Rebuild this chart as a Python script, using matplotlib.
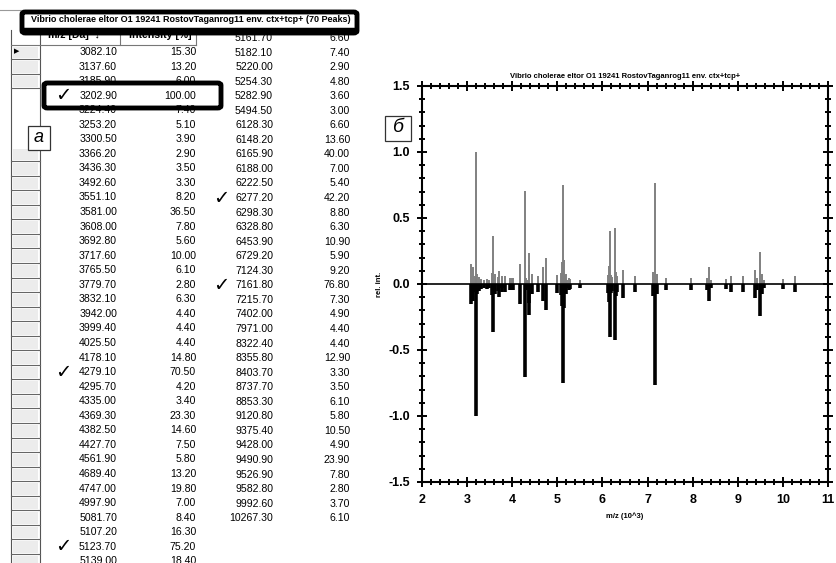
import matplotlib
matplotlib.use("Agg")
import matplotlib.pyplot as plt
from matplotlib.patches import FancyBboxPatch, Rectangle
from matplotlib.ticker import MultipleLocator, FormatStrFormatter

plt.rcParams['font.family'] = ['Liberation Sans', 'DejaVu Sans']
plt.rcParams['axes.unicode_minus'] = False

# peak list (70 peaks), shown in two table columns
mz_col1 = [3082.10, 3137.60, 3185.90, 3202.90, 3224.40, 3253.20, 3300.50, 3366.20, 3436.30,
           3492.60, 3551.10, 3581.00, 3608.00, 3692.80, 3717.60, 3765.50, 3779.70, 3832.10,
           3942.00, 3999.40, 4025.50, 4178.10, 4279.10, 4295.70, 4335.00, 4369.30, 4382.50,
           4427.70, 4561.90, 4689.40, 4747.00, 4997.90, 5081.70, 5107.20, 5123.70, 5139.00]
int_col1 = [15.30, 13.20, 6.00, 100.00, 7.40, 5.10, 3.90, 2.90, 3.50,
            3.30, 8.20, 36.50, 7.80, 5.60, 10.00, 6.10, 2.80, 6.30,
            4.40, 4.40, 4.40, 14.80, 70.50, 4.20, 3.40, 23.30, 14.60,
            7.50, 5.80, 13.20, 19.80, 7.00, 8.40, 16.30, 75.20, 18.40]
mz_col2 = [5161.70, 5182.10, 5220.00, 5254.30, 5282.90, 5494.50, 6128.30, 6148.20, 6165.90,
           6188.00, 6222.50, 6277.20, 6298.30, 6328.80, 6453.90, 6729.20, 7124.30, 7161.80,
           7215.70, 7402.00, 7971.00, 8322.40, 8355.80, 8403.70, 8737.70, 8853.30, 9120.80,
           9375.40, 9428.00, 9490.90, 9526.90, 9582.80, 9992.60, 10267.30]
int_col2 = [6.60, 7.40, 2.90, 4.80, 3.60, 3.00, 6.60, 13.60, 40.00,
            7.00, 5.40, 42.20, 8.80, 6.30, 10.90, 5.90, 9.20, 76.80,
            7.30, 4.90, 4.40, 4.40, 12.90, 3.30, 3.50, 6.10, 5.80,
            10.50, 4.90, 23.90, 7.80, 2.80, 3.70, 6.10]
checked = [3202.90, 4279.10, 5123.70, 6277.20, 7161.80]

title = 'Vibrio cholerae eltor O1 19241 RostovTaganrog11 env. ctx+tcp+'

W, H = 836, 563
fig = plt.figure(figsize=(W / 100, H / 100), dpi=100)


def px(x, y):
    return x / W, 1 - y / H


def ftext(x, y, s, **kw):
    fx, fy = px(x, y)
    fig.text(fx, fy, s, **kw)


def fline(x0, y0, x1, y1, **kw):
    a, b = px(x0, y0)
    c, d = px(x1, y1)
    fig.add_artist(plt.Line2D([a, c], [b, d], **kw))


def fbox(x0, y0, x1, y1, **kw):
    a, b = px(x0, y1)
    fig.add_artist(Rectangle((a, b), (x1 - x0) / W, (y1 - y0) / H, **kw))


# ---- left part: peak table ----
row_h = 14.55
y1 = 52.0    # first row of column 1
y2 = 38.0    # column 2 starts one row higher
tsize = 7.6

fline(0, 10, 340, 10, color='#999999', lw=0.8)
fline(11, 30, 11, H, color='#555555', lw=0.8)
fline(40, 30, 40, H, color='#555555', lw=0.8)
fline(120, 30, 120, 45, color='#777777', lw=0.8)
fline(196, 30, 196, 45, color='#777777', lw=0.8)
fline(11, 45, 196, 45, color='#777777', lw=0.8)
for i in range(36):
    yb = y1 + row_h * (i + 0.5)
    if i < 3 or yb > 158:
        fbox(13, yb - row_h + 2, 38, yb - 1, facecolor='#ececec', edgecolor='none')
        fline(11, yb, 40, yb, color='#666666', lw=0.8)
ftext(14, y1, '\u25B6', fontsize=5, va='center', ha='left')

# header row, mostly hidden under the title box
ftext(100, 35, 'm/z [Da]  \u2195', fontsize=tsize, ha='right', va='center', fontweight='bold')
ftext(192, 35, 'Intensity [%]', fontsize=tsize, ha='right', va='center', fontweight='bold')

for i, (m, v) in enumerate(zip(mz_col1, int_col1)):
    y = y1 + row_h * i
    ftext(117, y, f'{m:.2f}', fontsize=tsize, ha='right', va='center')
    ftext(196, y, f'{v:.2f}', fontsize=tsize, ha='right', va='center')
    if m in checked:
        ftext(55, y, '\u2713', fontsize=14, ha='left', va='center', family='DejaVu Sans',
              fontweight='bold')
for j, (m, v) in enumerate(zip(mz_col2, int_col2)):
    y = y2 + row_h * j
    ftext(273, y, f'{m:.2f}', fontsize=tsize, ha='right', va='center')
    ftext(350, y, f'{v:.2f}', fontsize=tsize, ha='right', va='center')
    if m in checked:
        ftext(213, y, '\u2713', fontsize=14, ha='left', va='center', family='DejaVu Sans',
              fontweight='bold')

# title box over the header
a, b = px(22, 33)
fig.add_artist(FancyBboxPatch((a, b), (357 - 22) / W, 21 / H,
                              boxstyle='round,pad=0.0,rounding_size=0.004',
                              facecolor='white', edgecolor='black', lw=3.5, zorder=5))
fline(24, 29, 355, 29, color='black', lw=2.5, zorder=6)
ftext(31, 20, title + ' (70 Peaks)', fontsize=6.5, ha='left', va='center',
      zorder=7, fontweight='bold')

# highlight box around the top peak row
a, b = px(44, 108)
fig.add_artist(FancyBboxPatch((a, b), (221 - 44) / W, 25 / H,
                              boxstyle='round,pad=0.0,rounding_size=0.004',
                              facecolor='none', edgecolor='black', lw=3.5, zorder=5))

# panel labels
fbox(28, 126, 50, 150, facecolor='white', edgecolor='#333333', lw=0.9, zorder=8)
ftext(39, 138, 'а', fontsize=13, style='italic', ha='center', va='center', zorder=9)
fbox(385, 116, 411, 141, facecolor='white', edgecolor='#333333', lw=0.9, zorder=8)
ftext(398, 128, 'б', fontsize=14, style='italic', ha='center', va='center', zorder=9)

# ---- right part: mirrored spectrum ----
ax = fig.add_axes([422 / W, 1 - 482 / H, 406 / W, 396 / H])
mz = [m / 1000 for m in mz_col1 + mz_col2]
rel = [v / 100 for v in int_col1 + int_col2]
ax.vlines(mz, 0, rel, color='#808080', lw=1.4)
ax.vlines(mz, 0, [-r for r in rel], color='black', lw=2.6)
ax.axhline(0, color='black', lw=1.2)

ax.set_xlim(2, 11)
ax.set_ylim(-1.5, 1.5)
ax.xaxis.set_major_locator(MultipleLocator(1))
ax.xaxis.set_minor_locator(MultipleLocator(0.2))
ax.yaxis.set_major_locator(MultipleLocator(0.5))
ax.yaxis.set_minor_locator(MultipleLocator(0.1))
ax.yaxis.set_major_formatter(FormatStrFormatter('%.1f'))
ax.tick_params(which='both', direction='inout', top=True, right=True, width=1.4)
ax.tick_params(which='major', length=7, labelsize=9, pad=5)
ax.tick_params(which='minor', length=4)
for lab in ax.get_xticklabels() + ax.get_yticklabels():
    lab.set_fontweight('bold')
for s in ax.spines.values():
    s.set_linewidth(1.5)

ax.set_title(title, fontsize=5.5, fontweight='bold', pad=6)
ax.set_xlabel('m/z (10^3)', fontsize=5.5, fontweight='bold', labelpad=5)
ax.set_ylabel('rel. int.', fontsize=5.5, fontweight='bold', labelpad=4)

fig.savefig('out.png', dpi=100)
